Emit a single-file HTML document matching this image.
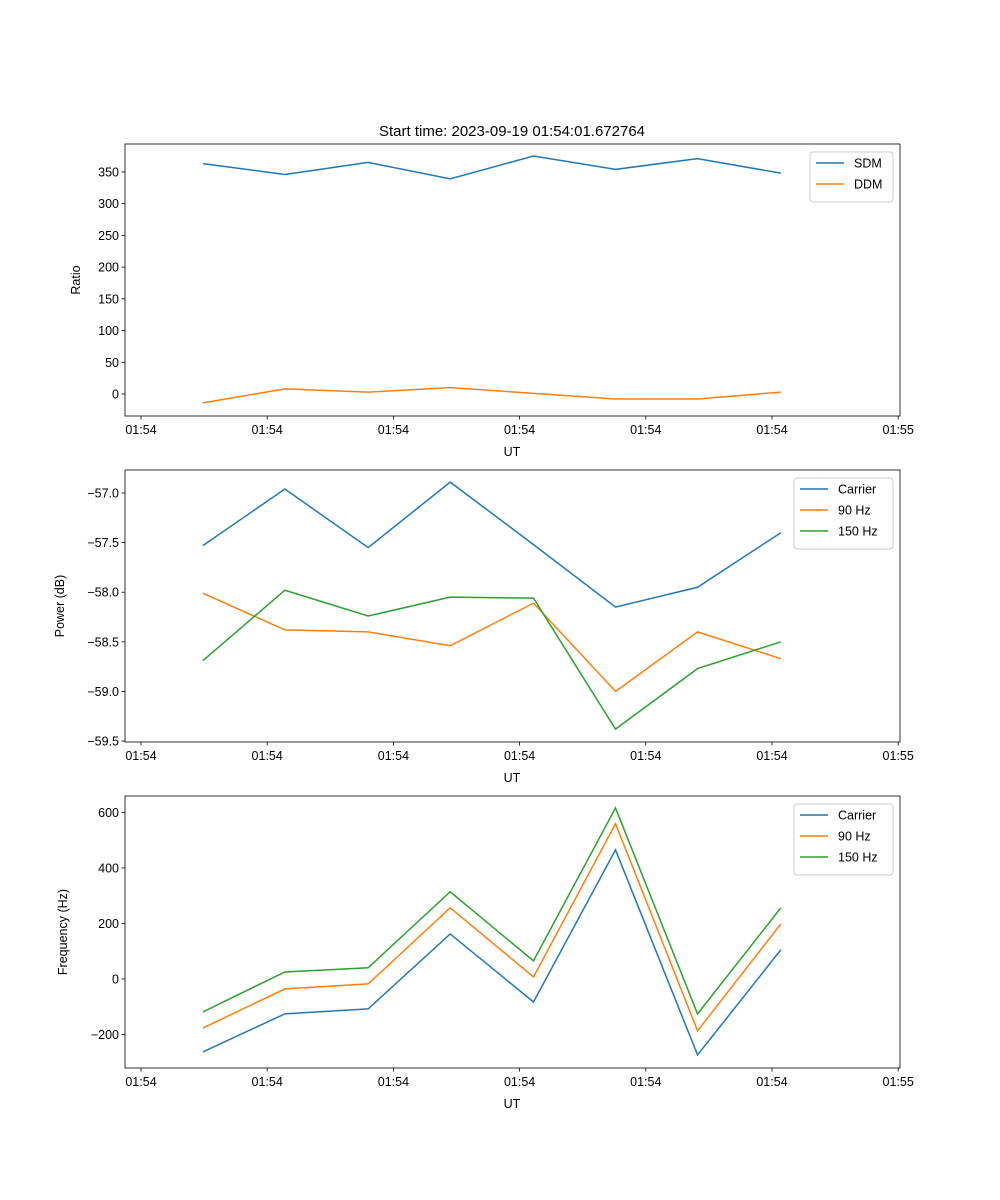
<!DOCTYPE html>
<html><head><meta charset="utf-8">
<style>body{margin:0;background:#fff}svg{display:block;font-family:"Liberation Sans","DejaVu Sans",sans-serif}</style>
</head><body>
<svg id="chart" width="1000" height="1200"></svg>
<script>
const xTickLabels = ["01:54","01:54","01:54","01:54","01:54","01:54","01:55"];
const times = [0.49,1.14,1.80,2.45,3.11,3.76,4.41,5.07];
const sdm = [363,346,365,339,375,354,371,348];
const ddm = [-14,8,3,10,1,-8,-8,3];
const powCarrier = [-57.53,-56.96,-57.55,-56.89,-57.52,-58.15,-57.95,-57.40];
const pow90 = [-58.01,-58.38,-58.40,-58.54,-58.11,-59.00,-58.40,-58.67];
const pow150 = [-58.69,-57.98,-58.24,-58.05,-58.06,-59.38,-58.77,-58.50];
const freqCarrier = [-263,-126,-108,162,-83,465,-274,105];
const freq90 = [-177,-36,-18,256,7,559,-187,198];
const freq150 = [-119,25,40,314,65,616,-126,256];
const ratioTicks = [0,50,100,150,200,250,300,350];
const powTicks = [-57.0,-57.5,-58.0,-58.5,-59.0,-59.5];
const freqTicks = [-200,0,200,400,600];

const NS="http://www.w3.org/2000/svg";
const svg=document.getElementById('chart');
function mk(t,a,p){const e=document.createElementNS(NS,t);for(const k in a)e.setAttribute(k,a[k]);(p||svg).appendChild(e);return e;}
const X0=125,X1=900;
const xs=v=>141+v*126.2;
const fmtP=v=>(v<0?"\u2212":"")+Math.abs(v).toFixed(1);
const fmtI=v=>(v<0?"\u2212":"")+Math.abs(v);
function panel(name,top,bot,ymin,ymax,ticks,fmt,ylab,series,legW){
  const g=mk('g',{});
  
  
  const ys=v=>bot-(v-ymin)/(ymax-ymin)*(bot-top);
  const clip=mk('clipPath',{id:'c'+name},g);mk('rect',{x:X0,y:top,width:X1-X0,height:bot-top},clip);
  series.forEach(s=>{
    const pl=mk('polyline',{points:s.d.map((v,i)=>xs(times[i])+','+ys(v)).join(' '),fill:'none',stroke:s.c,'stroke-width':1.5,'clip-path':'url(#c'+name+')'},g);
    
    
  });
  const fr=mk('rect',{x:X0,y:top,width:X1-X0,height:bot-top,fill:'none',stroke:'#000','stroke-width':0.8},g);
  
  xTickLabels.forEach((l,i)=>{const x=xs(i);mk('line',{x1:x,x2:x,y1:bot,y2:bot+3.5,stroke:'#000','stroke-width':0.8},g);
    const t=mk('text',{x:x,y:bot+18,'font-size':12.5,'text-anchor':'middle'},g);t.textContent=l;
    });
  ticks.forEach(v=>{const y=ys(v);mk('line',{x1:X0-3.5,x2:X0,y1:y,y2:y,stroke:'#000','stroke-width':0.8},g);
    const t=mk('text',{x:X0-6,y:y+4.5,'font-size':12.5,'text-anchor':'end'},g);t.textContent=fmt(v);
    });
  const xl=mk('text',{x:512,y:bot+40,'font-size':12.5,'text-anchor':'middle'},g);xl.textContent='UT';
  
  const yc=(top+bot)/2, yx=ylab.x;
  const yl=mk('text',{x:yx,y:yc,'font-size':12.5,'text-anchor':'middle',transform:'rotate(-90 '+yx+' '+yc+')'},g);yl.textContent=ylab.t;
  
  const lx=893-legW, lh=8+series.length*21;
  const lg=mk('g',{},g);
  mk('rect',{x:lx,y:top+8,width:legW,height:lh,rx:3,fill:'#fff',stroke:'#ccc','stroke-width':1},lg);
  series.forEach((s,i)=>{const y=top+19+i*21;
    mk('line',{x1:lx+6,x2:lx+34,y1:y,y2:y,stroke:s.c,'stroke-width':1.5},lg);
    const t=mk('text',{x:lx+44,y:y+4.5,'font-size':12.5},lg);t.textContent=s.n;
    });
}
const B='#1f77b4',O='#ff7f0e',G='#2ca02c';
const title=mk('text',{x:512,y:136,'font-size':15,'text-anchor':'middle'});title.textContent='Start time: 2023-09-19 01:54:01.672764';

panel('ratio',144,416,-34.7,394,ratioTicks,fmtI,{x:80,t:'Ratio'},[{n:'SDM',d:sdm,c:B},{n:'DDM',d:ddm,c:O}],83);
panel('power',470,742,-59.51,-56.768,powTicks,fmtP,{x:64,t:'Power (dB)'},[{n:'Carrier',d:powCarrier,c:B},{n:'90 Hz',d:pow90,c:O},{n:'150 Hz',d:pow150,c:G}],99);
panel('frequency',796,1068,-321,659,freqTicks,fmtI,{x:67,t:'Frequency (Hz)'},[{n:'Carrier',d:freqCarrier,c:B},{n:'90 Hz',d:freq90,c:O},{n:'150 Hz',d:freq150,c:G}],99);
</script>
</body></html>
